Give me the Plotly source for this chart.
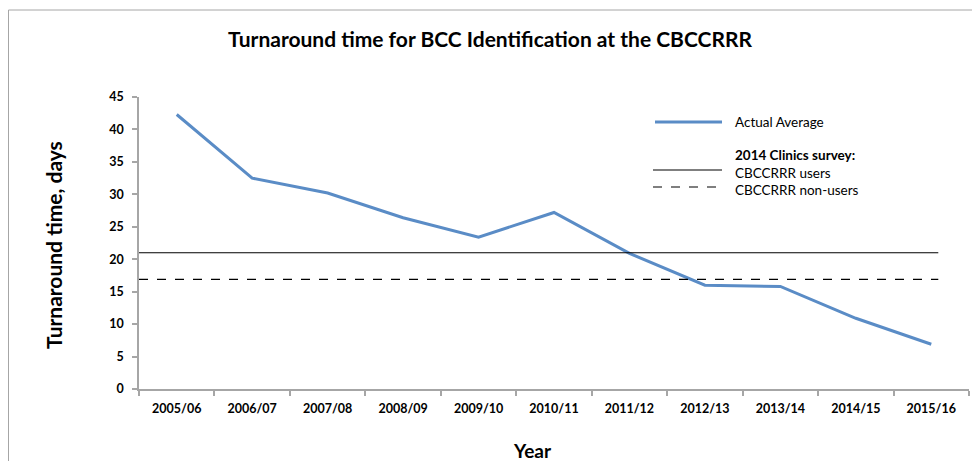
import plotly.graph_objects as go

years = ["2005/06", "2006/07", "2007/08", "2008/09", "2009/10", "2010/11",
         "2011/12", "2012/13", "2013/14", "2014/15", "2015/16"]
actual_average = [42.3, 32.5, 30.2, 26.4, 23.4, 27.2, 20.9, 16.0, 15.8, 10.9, 6.9]

survey_labels = ["CBCCRRR users", "CBCCRRR non-users"]
survey_values = [21.0, 16.9]
survey_dash = ["solid", "dash"]

y_ticks = [0, 5, 10, 15, 20, 25, 30, 35, 40, 45]

FONT = "Lato"
BLUE = "#5A8CC6"
AXIS = "#A6A6A6"

OFF = 8  # body margin of the page
W, H = 980 - 2 * OFF, 469 - 2 * OFF
# plot area in screen pixels: x 139..969, y 97..389
L = 139 - OFF
T = 97 - OFF
R = W - (969 - OFF)
B = H - (389 - OFF)
pw, ph = W - L - R, H - T - B


def px(x):  # screen pixel -> paper
    return (x - OFF - L) / pw


def py(y):
    return (H - B - (y - OFF)) / ph


fig = go.Figure()
fig.add_trace(go.Scatter(x=years, y=actual_average, mode="lines", name="Actual Average",
                         line=dict(color=BLUE, width=3), showlegend=False, hoverinfo="x+y"))

shapes = []
annotations = []

# reference lines from survey
for v, d in zip(survey_values, survey_dash):
    shapes.append(dict(type="line", xref="x domain", yref="y", x0=0, x1=0.963, y0=v, y1=v,
                       line=dict(color="black", width=1.2, dash=d)))

# manual legend
legend_font = dict(family=FONT, size=13.5, color="black")
shapes.append(dict(type="line", xref="paper", yref="paper", x0=px(655), x1=px(722),
                   y0=py(122), y1=py(122), line=dict(color=BLUE, width=3)))
annotations.append(dict(xref="paper", yref="paper", x=px(733), y=py(122), text="Actual Average",
                        showarrow=False, xanchor="left", yanchor="middle", font=legend_font))
annotations.append(dict(xref="paper", yref="paper", x=px(733), y=py(155), text="<b>2014 Clinics survey:</b>",
                        showarrow=False, xanchor="left", yanchor="middle", font=legend_font))
for lab, d, ly, ty in zip(survey_labels, survey_dash, [170, 187], [173, 190]):
    shapes.append(dict(type="line", xref="paper", yref="paper", x0=px(653), x1=px(722),
                       y0=py(ly), y1=py(ly), line=dict(color="black", width=1.2, dash=d)))
    annotations.append(dict(xref="paper", yref="paper", x=px(733), y=py(ty), text=lab,
                            showarrow=False, xanchor="left", yanchor="middle", font=legend_font))

# outer frame
shapes.append(dict(type="rect", xref="paper", yref="paper", x0=px(8.5), x1=px(1000),
                   y0=py(500), y1=py(10), line=dict(color=AXIS, width=1), layer="below"))

# axis titles
annotations.append(dict(xref="paper", yref="paper", x=px(53), y=py(245), text="<b>Turnaround time, days</b>",
                        showarrow=False, textangle=-90, xanchor="center", yanchor="middle",
                        font=dict(family=FONT, size=21, color="black")))
annotations.append(dict(xref="paper", yref="paper", x=px(532), y=py(450), text="<b>Year</b>",
                        showarrow=False, xanchor="center", yanchor="middle",
                        font=dict(family=FONT, size=19, color="black")))

fig.update_layout(
    width=W, height=H,
    margin=dict(l=L, r=R, t=T, b=B),
    paper_bgcolor="white", plot_bgcolor="white",
    title=dict(text="<b>Turnaround time for BCC Identification at the CBCCRRR</b>",
               x=(490 - OFF) / W, xanchor="center", y=1 - (40 - OFF) / H, yanchor="middle",
               font=dict(family=FONT, size=21, color="black")),
    shapes=shapes, annotations=annotations,
    showlegend=False,
)
fig.update_xaxes(type="category", categoryorder="array", categoryarray=years,
                 range=[-0.5, len(years) - 0.5],
                 showline=True, linecolor=AXIS, linewidth=1.5, showgrid=False,
                 ticks="outside", tickson="boundaries", ticklen=5, tickcolor=AXIS, tickwidth=1.5,
                 tickfont=dict(family=FONT, size=12.5, color="black"), ticklabelstandoff=7,
                 zeroline=False,
                 tickvals=years, ticktext=[f"<b>{y}</b>" for y in years])
fig.update_yaxes(range=[0, 45], tickvals=y_ticks, ticktext=[f"<b>{t}</b>" for t in y_ticks],
                 showline=True, linecolor=AXIS, linewidth=1.5, showgrid=False,
                 ticks="outside", ticklen=5, tickcolor=AXIS, tickwidth=1.5,
                 tickfont=dict(family=FONT, size=12.5, color="black"), ticklabelstandoff=6,
                 zeroline=False)

fig.write_html("out.html")
